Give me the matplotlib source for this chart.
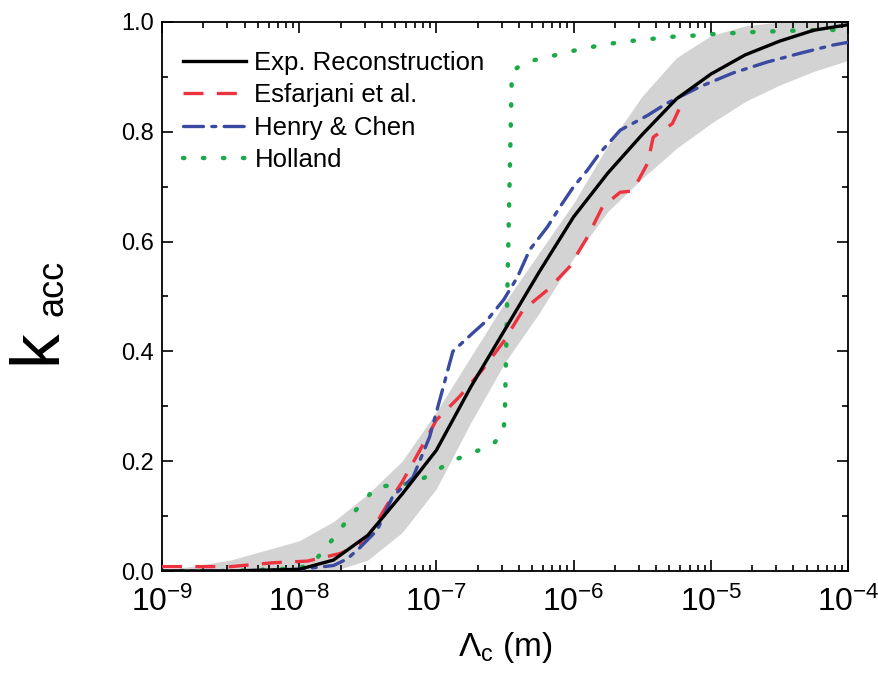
import numpy as np
import matplotlib
matplotlib.use("Agg")
import matplotlib.pyplot as plt
from matplotlib.ticker import LogLocator, MultipleLocator, FixedLocator, NullFormatter

plt.rcParams['font.family'] = ['Liberation Sans', 'DejaVu Sans']
plt.rcParams['mathtext.fontset'] = 'custom'
plt.rcParams['mathtext.rm'] = 'Liberation Sans'
plt.rcParams['mathtext.it'] = 'Liberation Sans'
plt.rcParams['mathtext.cal'] = 'Liberation Sans'

# ---- data (log10 of Lambda_c in m) ----
band_logx = [-9, -8.5, -8.0, -7.75, -7.5, -7.25, -7.0, -6.75, -6.5, -6.25, -6.0,
             -5.75, -5.5, -5.25, -5.0, -4.75, -4.5, -4.25, -4.0]
band_upper = [0.0, 0.02, 0.055, 0.09, 0.14, 0.20, 0.29, 0.39, 0.49, 0.58, 0.67,
              0.775, 0.865, 0.935, 0.975, 0.993, 1.0, 1.0, 1.0]
band_lower = [0.0, 0.0, 0.0, 0.0, 0.02, 0.07, 0.15, 0.27, 0.38, 0.47, 0.57,
              0.655, 0.715, 0.77, 0.815, 0.855, 0.885, 0.91, 0.93]

exp_logx = [-9, -8.5, -8.0, -7.75, -7.5, -7.25, -7.0, -6.75, -6.5, -6.25, -6.0,
            -5.75, -5.5, -5.25, -5.0, -4.75, -4.5, -4.25, -4.0]
exp_k = [0.0, 0.0, 0.003, 0.02, 0.065, 0.14, 0.22, 0.335, 0.44, 0.545, 0.645,
         0.725, 0.795, 0.86, 0.905, 0.94, 0.965, 0.985, 0.995]

esf_logx = [-9, -8.5, -8.19, -7.94, -7.70, -7.52, -7.36, -7.25, -7.12, -7.0, -6.83,
            -6.66, -6.51, -6.37, -6.19, -6.03, -5.90, -5.79, -5.66, -5.57, -5.46,
            -5.42, -5.28, -5.20]
esf_k = [0.008, 0.008, 0.015, 0.018, 0.032, 0.053, 0.12, 0.162, 0.22, 0.275, 0.318,
         0.368, 0.418, 0.475, 0.512, 0.554, 0.608, 0.663, 0.69, 0.692, 0.743,
         0.79, 0.815, 0.858]

hc_logx = [-9, -8.5, -8.0, -7.75, -7.65, -7.56, -7.43, -7.32, -7.17, -7.05, -6.96,
           -6.88, -6.75, -6.63, -6.51, -6.41, -6.32, -6.19, -6.1, -6.0, -5.9, -5.81,
           -5.66, -5.46, -5.32, -5.08, -4.84, -4.59, -4.35, -4.11, -4.0]
hc_k = [0.0, 0.0, 0.003, 0.01, 0.022, 0.042, 0.075, 0.135, 0.171, 0.244, 0.326,
        0.40, 0.43, 0.457, 0.494, 0.535, 0.585, 0.627, 0.663, 0.70, 0.73, 0.761,
        0.803, 0.83, 0.852, 0.882, 0.907, 0.927, 0.943, 0.958, 0.963]

hol_logx = [-9, -8.5, -8.0, -7.9, -7.83, -7.73, -7.64, -7.54, -7.44, -7.29, -7.16,
            -7.03, -6.89, -6.74, -6.59, -6.51, -6.50, -6.45, -6.35, -6.19, -6.05,
            -5.9, -5.75, -5.6, -5.44, -5.29, -5.14, -4.98, -4.67, -4.3, -4.0]
hol_k = [0.0, 0.0, 0.005, 0.015, 0.035, 0.066, 0.096, 0.124, 0.153, 0.157, 0.16,
         0.178, 0.2, 0.215, 0.23, 0.253, 0.30, 0.91, 0.927, 0.936, 0.945,
         0.953, 0.96, 0.965, 0.969, 0.973, 0.975, 0.978, 0.982, 0.985, 0.986]

xtick_labels = [r'$\mathregular{10^{-9}}$', r'$\mathregular{10^{-8}}$', r'$\mathregular{10^{-7}}$',
                r'$\mathregular{10^{-6}}$', r'$\mathregular{10^{-5}}$', r'$\mathregular{10^{-4}}$']
ytick_vals = [0.0, 0.2, 0.4, 0.6, 0.8, 1.0]

def L(v):
    return 10.0 ** np.asarray(v, dtype=float)

fig = plt.figure(figsize=(8.79, 6.9), dpi=100)
ax = fig.add_axes([162/879, 1 - 571/690, (848-162)/879, (571-22)/690])

ax.fill_between(L(band_logx), band_lower, band_upper, color='#d3d3d3', lw=0, zorder=1)
ax.plot(L(exp_logx), exp_k, color='black', lw=2.4, label='Exp. Reconstruction', zorder=5)
ax.plot(L(esf_logx), esf_k, color='#ee3340', lw=2.4, dashes=(6, 4),
        label='Esfarjani et al.', zorder=3)
ax.plot(L(hc_logx), hc_k, color='#3a4aa0', lw=2.4, dashes=(6, 2.5, 1.2, 2.5),
        label='Henry & Chen', zorder=4, dash_capstyle='round')
ax.plot(L(hol_logx), hol_k, color='#1aaa48', lw=3.2, linestyle=(0, (0.3, 4.2)),
        dash_capstyle='round', label='Holland', zorder=2)

ax.set_xscale('log')
ax.set_xlim(1e-9, 1e-4)
ax.set_ylim(0, 1.0)
ax.xaxis.set_major_locator(FixedLocator([1e-9, 1e-8, 1e-7, 1e-6, 1e-5, 1e-4]))
ax.set_xticklabels(xtick_labels)
ax.xaxis.set_minor_locator(LogLocator(base=10, subs=np.arange(2, 10), numticks=100))
ax.xaxis.set_minor_formatter(NullFormatter())
ax.set_yticks(ytick_vals)
ax.set_yticklabels(['%.1f' % v for v in ytick_vals])
ax.yaxis.set_minor_locator(MultipleLocator(0.1))

ax.tick_params(axis='both', which='both', direction='in', top=True, right=True, width=1.2)
ax.tick_params(axis='both', which='major', length=8)
ax.tick_params(axis='both', which='minor', length=4.5)
ax.tick_params(axis='x', which='major', labelsize=23, pad=11)
ax.tick_params(axis='y', which='major', labelsize=17, pad=6)
for s in ax.spines.values():
    s.set_linewidth(1.3)

ax.set_xlabel(r'$\mathregular{\Lambda_c}$ (m)', fontsize=24, labelpad=9)

fig.text(37/879, 1 - 347/690, 'k', fontsize=50, rotation=90, ha='center', va='center')
fig.text(53/879, 1 - 288/690, 'acc', fontsize=26, rotation=90, ha='center', va='center')

leg = ax.legend(loc='upper left', frameon=False, fontsize=18.5, handlelength=2.45,
                handletextpad=0.35, labelspacing=0.33, borderaxespad=0.4,
                bbox_to_anchor=(0.0, 0.985))

fig.savefig('out.png', dpi=100)
